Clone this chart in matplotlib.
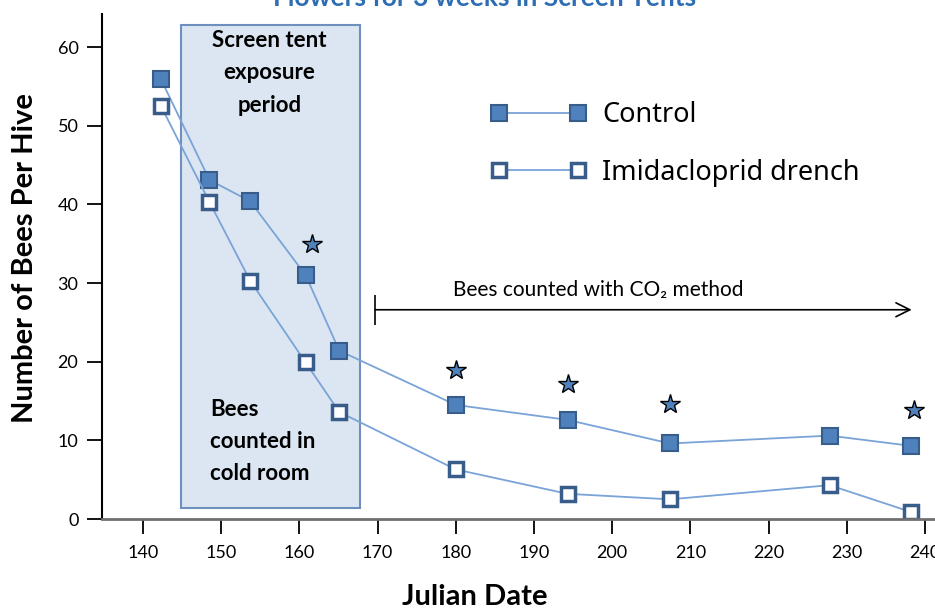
import numpy as np
import matplotlib
matplotlib.use('Agg')
import matplotlib.pyplot as plt
from matplotlib.patches import Rectangle
from matplotlib.lines import Line2D

# 数据
julian_date = [142.3, 148.5, 153.7, 160.8, 165.1, 180.0, 194.3, 207.4, 227.8, 238.2]
control = [55.9, 43.1, 40.4, 31.0, 21.4, 14.5, 12.6, 9.6, 10.6, 9.3]
imidacloprid = [52.5, 40.3, 30.3, 19.9, 13.6, 6.3, 3.2, 2.5, 4.3, 0.9]
star_date = [161.6, 180.0, 194.4, 207.4, 238.6]
star_y = [35.0, 18.9, 17.2, 14.6, 13.8]
x_ticks = [140, 150, 160, 170, 180, 190, 200, 210, 220, 230, 240]
y_ticks = [0, 10, 20, 30, 40, 50, 60]

plt.rcParams['font.family'] = ['Lato', 'DejaVu Sans']

W, H = 935, 611
fig = plt.figure(figsize=(W / 100, H / 100), dpi=100)
ax = fig.add_axes([102 / W, 1 - 519 / H, (W - 102) / W, (519 - 14) / H])

line_c = '#7aa3d8'
edge_c = '#385d8a'
fill_c = '#4f81bd'

# 屏幕帐篷暴露期
ax.add_patch(Rectangle((144.9, 1.4), 167.7 - 144.9, 62.8 - 1.4,
                       facecolor='#dce6f2', edgecolor='#6f8fbf', lw=1.5, zorder=1))

ax.plot(julian_date, control, color=line_c, lw=1.3, marker='s', ms=11,
        mfc=fill_c, mec=edge_c, mew=1.5, zorder=3)
ax.plot(julian_date, imidacloprid, color=line_c, lw=1.3, marker='s', ms=10,
        mfc='white', mec=edge_c, mew=2.5, zorder=3)
ax.plot(star_date, star_y, ls='none', marker='*', ms=15, mfc=fill_c,
        mec='black', mew=1.0, zorder=3)

ax.text(156.2, 56.7, 'Screen tent\nexposure\nperiod', ha='center', va='center',
        fontsize=16, fontweight='bold', linespacing=1.7, zorder=4)
ax.text(148.6, 9.9, 'Bees\ncounted in\ncold room', ha='left', va='center',
        fontsize=16, fontweight='bold', linespacing=1.65, zorder=4)

# CO2 计数箭头
ax.annotate('', xy=(238.3, 26.6), xytext=(169.7, 26.6),
            arrowprops=dict(arrowstyle='->, head_length=0.5, head_width=0.25',
                            color='black', lw=1.2, mutation_scale=20,
                            shrinkA=0, shrinkB=0))
ax.vlines(169.7, 24.7, 28.5, color='black', lw=1.2)
ax.text(198.2, 27.8, 'Bees counted with CO\u2082 method', ha='center', va='bottom',
        fontsize=15)

handles = [Line2D([], [], color=line_c, lw=1.3, marker='s', ms=11, mfc=fill_c,
                  mec=edge_c, mew=1.5),
           Line2D([], [], color=line_c, lw=1.3, marker='s', ms=10, mfc='white',
                  mec=edge_c, mew=2.5)]
ax.legend(handles, ['Control', 'Imidacloprid drench'], loc='upper left',
          bbox_to_anchor=((491 - 102) / (W - 102), (519 - 101) / (519 - 14)),
          frameon=False, numpoints=2, handlelength=3.5, handletextpad=0.6,
          labelspacing=1.1, borderpad=0, borderaxespad=0,
          prop={'family': ['Noto Sans', 'DejaVu Sans'], 'size': 19.5})

ax.set_xlim(134.76, 241.28)
ax.set_ylim(0, 64.2)
ax.set_xticks(x_ticks)
ax.set_yticks(y_ticks)
ax.tick_params(axis='x', direction='out', length=11, width=1.3, pad=8, labelsize=13)
ax.tick_params(axis='y', direction='out', length=11, width=1.3, pad=6, labelsize=13)
for s in ['top', 'right']:
    ax.spines[s].set_visible(False)
ax.spines['left'].set_linewidth(1.5)
ax.spines['bottom'].set_linewidth(2)
ax.spines['bottom'].set_color('#707070')
ax.spines['bottom'].set_zorder(5)

fig.text(25 / W, 1 - 258 / H, 'Number of Bees Per Hive', rotation=90,
         ha='center', va='center', fontsize=21, fontweight='bold')
fig.text(475 / W, 1 - 597 / H, 'Julian Date', ha='center', va='center',
         fontsize=21, fontweight='bold')
fig.text(485 / W, 1 - 6 / H, 'Flowers for 3 weeks in Screen Tents', ha='center',
         va='baseline', fontsize=19, fontweight='bold', color='#2e6db4')

fig.savefig('out.png', dpi=100)
